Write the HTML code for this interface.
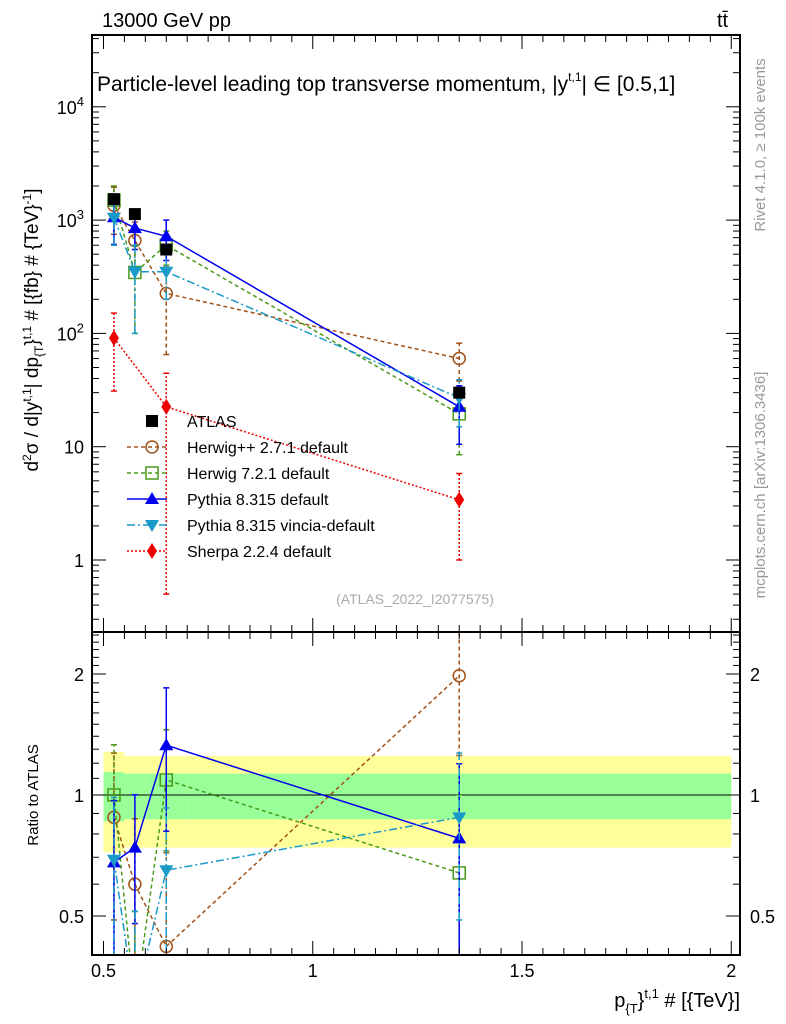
<!DOCTYPE html>
<html><head><meta charset="utf-8"><style>
html,body{margin:0;background:#fff;width:786px;height:1024px;overflow:hidden;position:relative}
svg{display:block;font-family:"Liberation Sans",sans-serif}
</style></head><body>
<svg id="c" width="786" height="1024" viewBox="0 0 786 1024" style="position:absolute;left:0;top:0;overflow:hidden"></svg>
<script>
const categories=[0.525,0.575,0.65,1.35];
const binEdges=[0.5,0.55,0.6,0.7,2.0];
const atlas=[1530,1130,550,30];
const atlasErr=[80,60,40,3];
const herwigpp=[1350,660,225,60];
const herwigppErr=[600,300,160,22];
const herwig7=[1500,345,600,19.5];
const herwig7Err=[500,245,200,11];
const pythia=[1060,850,720,22.5];
const pythiaErr=[450,300,280,12];
const vincia=[1050,350,350,27];
const vinciaErr=[450,250,150,12];
const sherpa=[91,null,22.5,3.4];
const sherpaErr=[60,null,22,2.4];
const rHerwigpp=[0.88,0.60,0.42,1.98];
const rHerwig7=[1.0,0.3,1.09,0.64];
const rPythia=[0.68,0.74,1.33,0.78];
const rVincia=[0.69,0.3,0.65,0.88];
const rSherpa=[0.06,null,0.04,0.11];
const bandYellowLo=[0.72,0.74,0.74,0.74];
const bandYellowHi=[1.28,1.25,1.25,1.25];
const bandGreenLo=[0.86,0.87,0.87,0.87];
const bandGreenHi=[1.14,1.13,1.13,1.13];
const xTicks=[0.5,1,1.5,2];
const xTickLabels=["0.5","1","1.5","2"];
const yTicks=[1,10,100,1000,10000];
const yTickLabels=["1","10","10<tspan dy='-8' font-size='13'>2</tspan>","10<tspan dy='-8' font-size='13'>3</tspan>","10<tspan dy='-8' font-size='13'>4</tspan>"];
const rTicks=[0.5,1,2];

const L=92,R=740,T=35,M=632,B=955;
const X=v=>103.5+(v-0.5)*418.5;
const Y=v=>Math.min(1015,560-113.3*Math.log10(v));
const YR=v=>Math.min(1015,795-402*Math.log10(v));
const svg=document.getElementById('c');
const NS='http://www.w3.org/2000/svg';
function mk(t,a,p){const e=document.createElementNS(NS,t);for(const k in a)e.setAttribute(k,a[k]);(p||svg).appendChild(e);return e;}
function clipRect(id,y0,y1){const cp=mk('clipPath',{id:id});mk('rect',{x:L,y:y0,width:R-L,height:y1-y0},cp);}
clipRect('cm',T,M);clipRect('cr',M,B);

const gB=mk('g',{'clip-path':'url(#cr)'});

for(let i=0;i<categories.length;i++){
 const x0=X(binEdges[i]),x1=X(binEdges[i+1]);
 const y=mk('rect',{x:x0,y:YR(bandYellowHi[i]),width:x1-x0,height:YR(bandYellowLo[i])-YR(bandYellowHi[i]),fill:'#ffff99'},gB);
 
 const g=mk('rect',{x:x0,y:YR(bandGreenHi[i]),width:x1-x0,height:YR(bandGreenLo[i])-YR(bandGreenHi[i]),fill:'#99ff99'},gB);
 
}
mk('line',{x1:L,x2:R,y1:YR(1),y2:YR(1),stroke:'#000','stroke-width':1});

function marker(g,type,x,y,col){
 let e;
 if(type==='sq')e=mk('rect',{x:x-6,y:y-6,width:12,height:12,fill:'none',stroke:col,'stroke-width':1.5},g);
 else if(type==='fsq')e=mk('rect',{x:x-6,y:y-6,width:12,height:12,fill:col},g);
 else if(type==='circ')e=mk('circle',{cx:x,cy:y,r:6,fill:'none',stroke:col,'stroke-width':1.5},g);
 else if(type==='tri')e=mk('polygon',{points:`${x},${y-7} ${x-7},${y+5} ${x+7},${y+5}`,fill:col},g);
 else if(type==='itri')e=mk('polygon',{points:`${x},${y+7} ${x-7},${y-5} ${x+7},${y-5}`,fill:col},g);
 else e=mk('polygon',{points:`${x},${y-8} ${x-5},${y} ${x},${y+8} ${x+5},${y}`,fill:col},g);
 
}
function series(name,vals,errs,col,dash,type,yf,clip,line,ymax){
 const g=mk('g',{'clip-path':`url(#${clip})`});
 
 const pts=[];
 vals.forEach((v,i)=>{if(v==null)return;const x=X(categories[i]);
  const y=yf(Math.max(v,1e-3));pts.push(x+','+y);
  if(errs&&errs[i]!=null){const lo=Math.max(v-errs[i],1e-3),hi=v+errs[i];
   mk('line',{x1:x,x2:x,y1:yf(lo),y2:yf(hi),stroke:col,'stroke-width':1.5,'stroke-dasharray':dash},g);
   if(yf(lo)<ymax)mk('line',{x1:x-3,x2:x+3,y1:yf(lo),y2:yf(lo),stroke:col,'stroke-width':1.5},g);
   mk('line',{x1:x-3,x2:x+3,y1:yf(hi),y2:yf(hi),stroke:col,'stroke-width':1.5},g);}
 });
 if(line)mk('polyline',{points:pts.join(' '),fill:'none',stroke:col,'stroke-width':1.5,'stroke-dasharray':dash},g);
 vals.forEach((v,i)=>{if(v==null)return;const y=yf(Math.max(v,1e-3));if(y>ymax)return;marker(g,type,X(categories[i]),y,col);});
}
const S=[
 ['herwigpp',herwigpp,herwigppErr,rHerwigpp,'#a0521a','4,3','circ','Herwig++ 2.7.1 default'],
 ['herwig7',herwig7,herwig7Err,rHerwig7,'#4a9a1a','4,3','sq','Herwig 7.2.1 default'],
 ['pythia',pythia,pythiaErr,rPythia,'#0000ee','','tri','Pythia 8.315 default'],
 ['vincia',vincia,vinciaErr,rVincia,'#1a9ac8','8,3,2,3','itri','Pythia 8.315 vincia-default'],
 ['sherpa',sherpa,sherpaErr,rSherpa,'#ee0000','2,2','dia','Sherpa 2.2.4 default']];
S.forEach(s=>{
 series(s[0]+'-series',s[1],s[2],s[4],s[5],s[6],Y,'cm',true,M+10);
 const re=s[3].map((r,i)=>r==null?null:r*s[2][i]/s[1][i]);
 series(s[0]+'-ratio',s[3],re,s[4],s[5],s[6],YR,'cr',true,B+10);
});
series('atlas-data',atlas,atlasErr,'#000','','fsq',Y,'cm',false,M+10);

mk('rect',{x:L,y:T,width:R-L,height:M-T,fill:'none',stroke:'#000','stroke-width':2});
mk('rect',{x:L,y:M,width:R-L,height:B-M,fill:'none',stroke:'#000','stroke-width':2});
function txt(s,a,p){const e=mk('text',a,p);e.innerHTML=s;return e;}
for(let v=0.5;v<=2.04;v+=0.05){const x=X(v);const maj=Math.abs(v*2-Math.round(v*2))<1e-6;const l=maj?14:7;
 [[T,1],[M,-1],[M,1],[B,-1]].forEach(([y0,d])=>mk('line',{x1:x,x2:x,y1:y0,y2:y0+d*l,stroke:'#000'}));}
xTicks.forEach((v,i)=>{const t=txt(xTickLabels[i],{x:X(v),y:977,'font-size':18,'text-anchor':'middle'});});
for(let d=-1;d<=4;d++)for(let m=1;m<10;m++){const v=m*Math.pow(10,d);const y=Y(v);if(y<T||y>M)continue;const l=m===1?14:7;
 mk('line',{x1:L,x2:L+l,y1:y,y2:y,stroke:'#000'});mk('line',{x1:R,x2:R-l,y1:y,y2:y,stroke:'#000'});}
yTicks.forEach((v,i)=>{const t=txt(yTickLabels[i],{x:84,y:Y(v)+7,'font-size':18,'text-anchor':'end'});});
for(let v=0.4;v<=2.6;v+=0.1){const y=YR(v);if(y<M||y>B)continue;const maj=[0.5,1,2].some(q=>Math.abs(q-v)<1e-6);const l=maj?14:7;
 mk('line',{x1:L,x2:L+l,y1:y,y2:y,stroke:'#000'});mk('line',{x1:R,x2:R-l,y1:y,y2:y,stroke:'#000'});}
rTicks.forEach(v=>{const s=String(v);txt(s,{x:84,y:YR(v)+7,'font-size':18,'text-anchor':'end'});txt(s,{x:750,y:YR(v)+7,'font-size':18});});

const leg=[['atlas','ATLAS','#000','','fsq']].concat(S.map(s=>[s[0],s[7],s[4],s[5],s[6]]));
leg.forEach((l,i)=>{const y=421+i*26;const g=mk('g',{});
 
 if(i>0)mk('line',{x1:127,x2:167,y1:y,y2:y,stroke:l[2],'stroke-width':1.5,'stroke-dasharray':l[3]},g);
 marker(g,l[4],152,y,l[2]);
 txt(l[1],{x:187,y:y+6,'font-size':16},g);});
</script>
<svg width="786" height="1024" style="position:absolute;left:0;top:0">
<text x="102" y="27" font-size="20">13000 GeV pp</text>
<text x="717" y="27" font-size="20">tt̄</text>
<text x="97" y="91" font-size="21">Particle-level leading top transverse momentum, |y<tspan dy="-10" font-size="12">t,1</tspan><tspan dy="10">| ∈ [0.5,1]</tspan></text>
<text x="415" y="604" font-size="14" fill="#aaa" text-anchor="middle">(ATLAS_2022_I2077575)</text>
<text transform="translate(38,330) rotate(-90)" font-size="19" text-anchor="middle">d<tspan dy="-7" font-size="12">2</tspan><tspan dy="7">σ / d|y</tspan><tspan dy="-7" font-size="12">t,1</tspan><tspan dy="7">| dp</tspan><tspan dy="5" font-size="12">{T</tspan><tspan dy="-5">}</tspan><tspan dy="-7" font-size="12">t,1</tspan><tspan dy="7"> # [{fb} # {TeV}</tspan><tspan dy="-7" font-size="12">-1</tspan><tspan dy="7">]</tspan></text>
<text transform="translate(38,795) rotate(-90)" font-size="15" text-anchor="middle">Ratio to ATLAS</text>
<text x="740" y="1007" font-size="20" text-anchor="end">p<tspan dy="6" font-size="13">{T</tspan><tspan dy="-6">}</tspan><tspan dy="-9" font-size="13">t,1</tspan><tspan dy="9"> # [{TeV}]</tspan></text>
<text transform="translate(765,145) rotate(-90)" font-size="15" fill="#999" text-anchor="middle">Rivet 4.1.0, ≥ 100k events</text>
<text transform="translate(765,485) rotate(-90)" font-size="15" fill="#999" text-anchor="middle">mcplots.cern.ch [arXiv:1306.3436]</text>
</svg>
</body></html>
